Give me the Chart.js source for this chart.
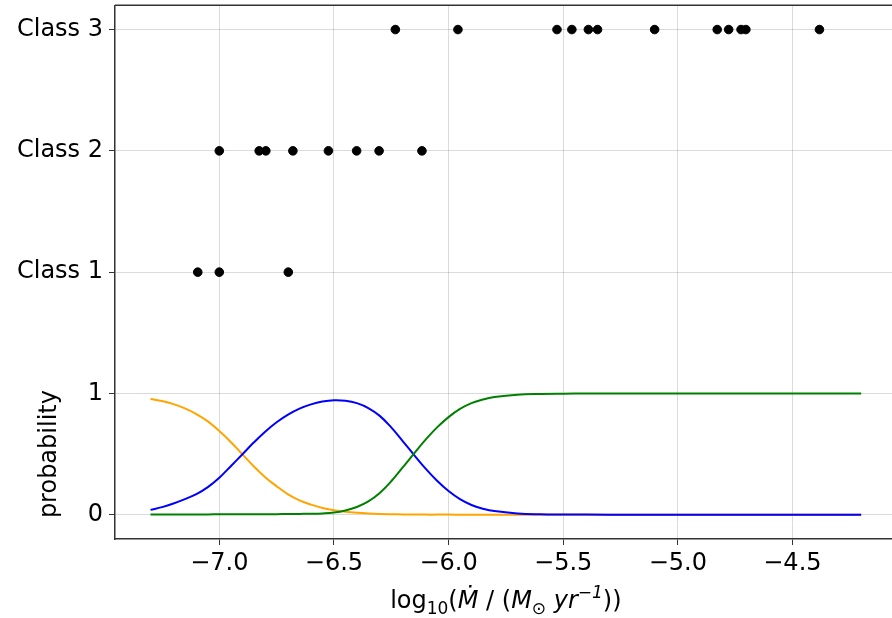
<!DOCTYPE html>
<html>
<head>
<meta charset="utf-8">
<script src="https://cdn.jsdelivr.net/npm/chart.js@4"></script>
<style>
  html, body { margin: 0; padding: 0; background: #fff; overflow: hidden; }
  #wrap { width: 902px; height: 618px; }
</style>
</head>
<body>
<div id="wrap"><canvas id="chart" width="902" height="618"></canvas></div>
<script>
// observed sources, one row per class (log10 Mdot)
const class1X = [-7.094, -7.0, -6.699];
const class2X = [-7.0, -6.826, -6.797, -6.679, -6.524, -6.401, -6.303, -6.116];
const class3X = [-6.232, -5.959, -5.527, -5.462, -5.390, -5.350, -5.101, -4.828, -4.778, -4.724, -4.703, -4.382];

// probability curves
const probX = [-7.3, -7.25, -7.2, -7.15, -7.1, -7.05, -7.0, -6.95, -6.9, -6.85,
  -6.8, -6.75, -6.7, -6.65, -6.6, -6.55, -6.5, -6.45, -6.4, -6.35,
  -6.3, -6.25, -6.2, -6.15, -6.1, -6.05, -6.0, -5.95, -5.9, -5.85,
  -5.8, -5.7, -5.6, -5.5, -5.4, -5.2, -5.0, -4.8, -4.6, -4.4, -4.2];
const probClass1 = [0.955, 0.937, 0.912, 0.877, 0.83, 0.77, 0.69, 0.6, 0.5, 0.4,
  0.31, 0.235, 0.168, 0.118, 0.083, 0.056, 0.038, 0.025, 0.016, 0.01,
  0.006, 0.004, 0.003, 0.002, 0.001, 0.001, 0.001, 0, 0, 0,
  0, 0, 0, 0, 0, 0, 0, 0, 0, 0, 0];
const probClass2 = [0.04, 0.063, 0.093, 0.129, 0.17, 0.228, 0.305, 0.4, 0.497, 0.595,
  0.685, 0.763, 0.826, 0.875, 0.91, 0.933, 0.944, 0.94, 0.92, 0.88,
  0.815, 0.72, 0.607, 0.492, 0.38, 0.28, 0.195, 0.128, 0.08, 0.05,
  0.03, 0.011, 0.004, 0.002, 0.001, 0, 0, 0, 0, 0, 0];
const probClass3 = [0.003, 0.003, 0.003, 0.003, 0.003, 0.003, 0.004, 0.004, 0.004, 0.005,
  0.005, 0.005, 0.006, 0.007, 0.008, 0.011, 0.018, 0.035, 0.064, 0.11,
  0.18, 0.276, 0.39, 0.506, 0.619, 0.72, 0.805, 0.872, 0.92, 0.95,
  0.97, 0.99, 0.996, 0.998, 0.999, 1, 1, 1, 1, 1, 1];

const xTicks = [-7.0, -6.5, -6.0, -5.5, -5.0, -4.5];
const yTicks = [0, 1, 2, 3, 4];
const yTickLabels = ['0', '1', 'Class 1', 'Class 2', 'Class 3'];
const classRows = [2, 3, 4];

const FONT = 'DejaVu Sans';

const pts = (xs, y) => xs.map((x) => ({ x, y }));
const curve = (ys) => probX.map((x, i) => ({ x, y: ys[i] }));

// higher order is drawn first, so orange sits lowest and the dots on top
const lineSet = (data, color, order) => ({
  data,
  order,
  showLine: true,
  borderColor: color,
  borderWidth: 2,
  pointRadius: 0,
  tension: 0.4,
  fill: false,
});
const dotSet = (data) => ({
  data,
  order: 0,
  backgroundColor: '#000',
  borderColor: '#000',
  pointRadius: 4.3,
  pointHoverRadius: 4.3,
});

const axisText = {
  id: 'axisText',
  afterDraw(chart) {
    const { ctx, chartArea, scales } = chart;
    ctx.save();
    // top spine
    ctx.strokeStyle = '#333';
    ctx.lineWidth = 1.5;
    ctx.beginPath();
    ctx.moveTo(chartArea.left, chartArea.top);
    ctx.lineTo(chartArea.right, chartArea.top);
    ctx.stroke();

    // y label next to the probability part
    ctx.fillStyle = '#000';
    ctx.font = `24px "${FONT}"`;
    ctx.textAlign = 'center';
    ctx.textBaseline = 'middle';
    ctx.translate(50, scales.y.getPixelForValue(0.5));
    ctx.rotate(-Math.PI / 2);
    ctx.fillText('probability', 0, 0);
    ctx.restore();

    // x label with sub/superscripts
    const parts = [
      { t: 'log' },
      { t: '10', s: 'sub' },
      { t: '(' },
      { t: 'Ṁ', i: true },
      { t: ' / (' },
      { t: 'M', i: true },
      { t: '⊙', s: 'sub' },
      { t: ' ' },
      { t: 'yr', i: true },
      { t: '−1', s: 'sup', i: true },
      { t: '))' },
    ];
    const fontFor = (p) => `${p.i ? 'oblique ' : ''}${p.s ? 17 : 24}px "${FONT}"`;
    ctx.save();
    ctx.fillStyle = '#000';
    ctx.textBaseline = 'alphabetic';
    let total = 0;
    parts.forEach((p) => { ctx.font = fontFor(p); p.w = ctx.measureText(p.t).width; total += p.w; });
    let x = (chartArea.left + chartArea.right) / 2 - total / 2;
    const base = 608;
    parts.forEach((p) => {
      ctx.font = fontFor(p);
      const dy = p.s === 'sub' ? 6 : p.s === 'sup' ? -10 : 0;
      ctx.fillText(p.t, x, base + dy);
      x += p.w;
    });
    ctx.restore();
  },
};

new Chart(document.getElementById('chart'), {
  type: 'scatter',
  data: {
    datasets: [
      lineSet(curve(probClass1), '#ffa500', 3),
      lineSet(curve(probClass2), '#0000ff', 2),
      lineSet(curve(probClass3), '#008000', 1),
      dotSet(pts(class1X, classRows[0])),
      dotSet(pts(class2X, classRows[1])),
      dotSet(pts(class3X, classRows[2])),
    ],
  },
  options: {
    responsive: false,
    animation: false,
    layout: { padding: { top: 3, right: 0, left: 0, bottom: 0 } },
    plugins: { legend: { display: false }, tooltip: { enabled: false } },
    scales: {
      x: {
        type: 'linear',
        min: -7.455,
        max: -4.045,
        afterBuildTicks: (s) => { s.ticks = xTicks.map((v) => ({ value: v })); },
        afterFit: (s) => { s.height = 79; s.paddingLeft = 0; s.paddingRight = 0; },
        ticks: {
          color: '#000',
          font: { family: FONT, size: 24 },
          padding: 4,
          maxRotation: 0,
          callback: (v) => v.toFixed(1).replace('-', '−'),
        },
        grid: { color: 'rgba(0,0,0,0.14)', lineWidth: 1, tickColor: '#333', tickLength: 6 },
        border: { color: '#333', width: 1.5 },
      },
      y: {
        type: 'linear',
        min: -0.2,
        max: 4.2,
        afterBuildTicks: (s) => { s.ticks = yTicks.map((v) => ({ value: v })); },
        afterFit: (s) => { s.width = 115; s.paddingTop = 0; s.paddingBottom = 0; },
        ticks: {
          color: '#000',
          font: { family: FONT, size: 24 },
          padding: 6,
          callback: (v) => yTickLabels[yTicks.indexOf(v)],
        },
        grid: { color: 'rgba(0,0,0,0.14)', lineWidth: 1, tickColor: '#333', tickLength: 6 },
        border: { color: '#333', width: 1.5 },
      },
    },
  },
  plugins: [axisText],
});
</script>
</body>
</html>
